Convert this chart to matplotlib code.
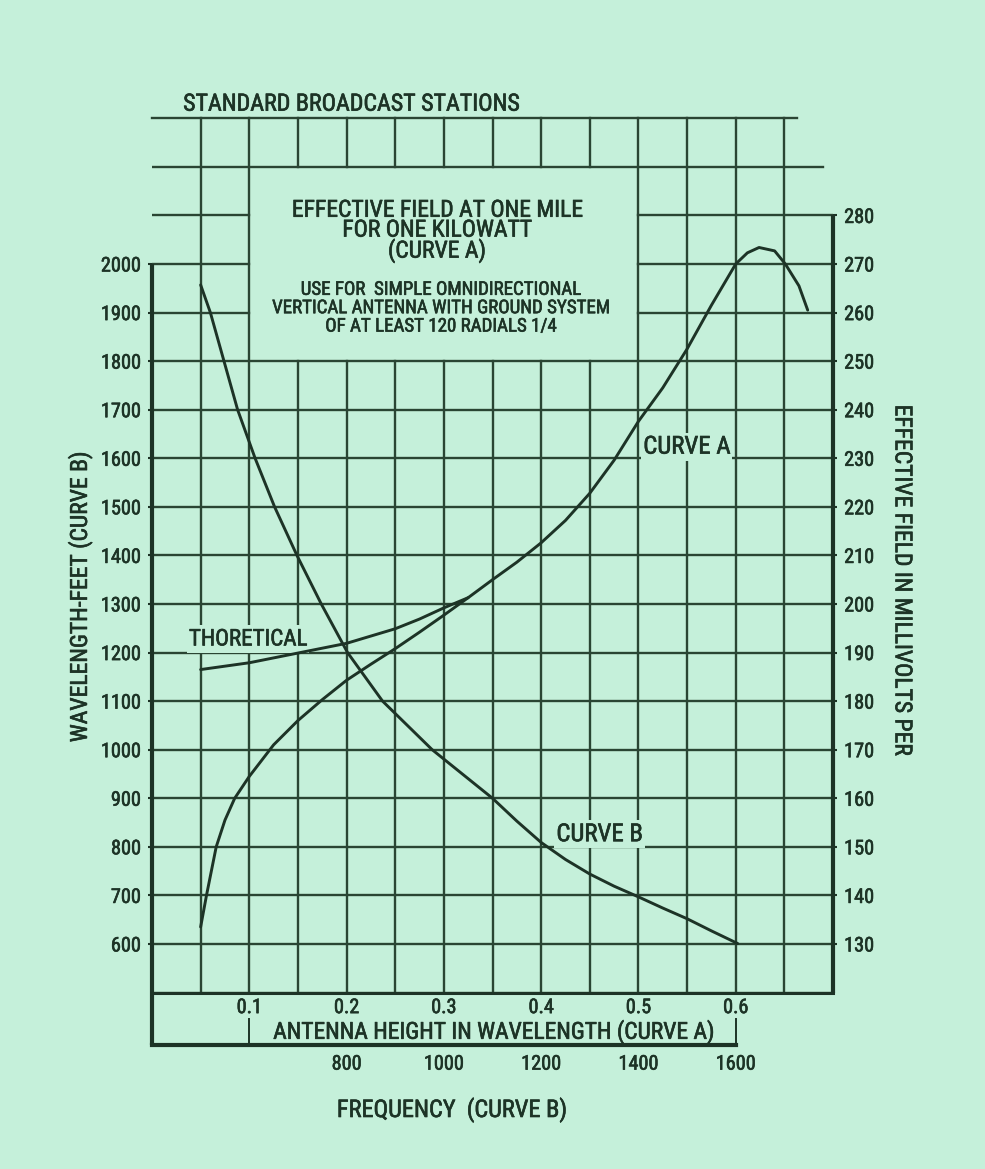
import os
import matplotlib
matplotlib.use("Agg")
import matplotlib.pyplot as plt
from matplotlib import font_manager
from matplotlib.font_manager import FontProperties
import matplotlib.patheffects as pe

# ---------------- data ----------------
height_ticks = [0.1, 0.2, 0.3, 0.4, 0.5, 0.6]
height_labels = ["0.1", "0.2", "0.3", "0.4", "0.5", "0.6"]
freq_ticks = [800, 1000, 1200, 1400, 1600]
freq_labels = ["800", "1000", "1200", "1400", "1600"]
wavelength_ticks = [600, 700, 800, 900, 1000, 1100, 1200, 1300, 1400, 1500,
                    1600, 1700, 1800, 1900, 2000]
field_ticks = [130, 140, 150, 160, 170, 180, 190, 200, 210, 220, 230, 240,
               250, 260, 270, 280]

# Curve A : effective field (mV/m) vs antenna height (wavelengths)
curve_a_height = [0.050, 0.056, 0.066, 0.075, 0.085, 0.100, 0.125, 0.150,
                  0.175, 0.200, 0.225, 0.250, 0.275, 0.300, 0.325, 0.350,
                  0.375, 0.400, 0.425, 0.450, 0.475, 0.500, 0.525, 0.550,
                  0.575, 0.600, 0.612, 0.624, 0.640, 0.651, 0.665, 0.674]
curve_a_field = [133.5, 140, 150, 155.5, 160, 164.5, 171, 176,
                 180.3, 184.3, 187.6, 190.8, 194.2, 197.7, 201.3, 205,
                 208.6, 212.6, 217.2, 222.8, 229.6, 237.6, 244.5, 252.5,
                 261.5, 270, 272.3, 273.4, 272.7, 270, 265.5, 260.5]

# Theoretical branch of curve A
theoretical_height = [0.050, 0.100, 0.150, 0.200, 0.250, 0.275, 0.300, 0.325]
theoretical_field = [186.5, 187.9, 189.9, 191.9, 194.9, 196.9, 199.2, 201.3]

# Curve B : wavelength (feet) vs frequency (plotted on the antenna-height scale)
curve_b_height = [0.050, 0.060, 0.074, 0.088, 0.106, 0.126, 0.149, 0.174,
                  0.201, 0.237, 0.288, 0.350, 0.375, 0.400, 0.425, 0.450,
                  0.475, 0.500, 0.525, 0.550, 0.575, 0.602]
curve_b_wavelength = [1957, 1900, 1800, 1700, 1600, 1500, 1400, 1300,
                      1200, 1100, 1000, 900, 853, 809, 774, 744,
                      719, 697, 674, 652, 627, 601]

# ---------------- style ----------------
BG = "#c5f0da"
INK = "#1d3326"
GRID = "#2a4533"
BOLD = [pe.withStroke(linewidth=0.45, foreground=INK)]


def pick_font():
    files = [f.fname for f in font_manager.fontManager.ttflist]
    files += font_manager.findSystemFonts()
    wanted = ["liberationsansnarrow-regular", "notosans-condensed.",
              "notosans-condensed-regular", "robotocondensed-regular",
              "roboto_condensed-regular", "opensans_condensed-regular",
              "opensans-condensed-regular", "dejavusanscondensed."]
    low = [(os.path.basename(p).lower(), p) for p in files]
    for w in wanted:
        for b, p in low:
            if b.startswith(w) or b.replace(" ", "").startswith(w):
                return p
    for b, p in low:
        if ("condensed" in b or "narrow" in b) and not any(
                k in b for k in ("bold", "italic", "oblique", "light", "thin",
                                 "medium", "black", "semi", "extra", "ultra")):
            return p
    return None


fpath = pick_font()


def FP(size):
    if fpath:
        return FontProperties(fname=fpath, size=size)
    return FontProperties(family="DejaVu Sans", size=size)


W, H = 985, 1169
fig = plt.figure(figsize=(W / 100, H / 100), dpi=100, facecolor=BG)

YMIN, YMAX = 500, 2300
left_px, right_px = 152, 833
top_px, bot_px = 264 - (YMAX - 2000) * 0.4857, 264 + (2000 - YMIN) * 0.4857
ax = fig.add_axes([left_px / W, 1 - bot_px / H, (right_px - left_px) / W,
                   (bot_px - top_px) / H])
ax.set_facecolor(BG)
ax.set_xlim(0, 0.7)
ax.set_ylim(YMIN, YMAX)
for s in ax.spines.values():
    s.set_visible(False)

ax2 = ax.twinx()
ax2.set_ylim(130 + (YMIN - 600) / 10, 130 + (YMAX - 600) / 10)
for s in ax2.spines.values():
    s.set_visible(False)

# ---------------- grid ----------------
glw = 1.7
for lev in range(500, 1900, 100):
    ax.plot([0, 0.7], [lev, lev], color=GRID, lw=glw, zorder=1)
for lev in (1900, 2000, 2100):
    ax.plot([0, 0.1], [lev, lev], color=GRID, lw=glw, zorder=1)
    ax.plot([0.5, 0.7], [lev, lev], color=GRID, lw=glw, zorder=1)
ax.plot([0, 0.69], [2200, 2200], color=GRID, lw=glw, zorder=1)
ax.plot([0, 0.663], [2300, 2300], color=GRID, lw=glw, zorder=1, clip_on=False)
for i in range(1, 14):
    xv = i * 0.05
    if 0.1 + 1e-9 < xv < 0.5 - 1e-9:
        ax.plot([xv, xv], [500, 1800], color=GRID, lw=glw, zorder=1)
        ax.plot([xv, xv], [2200, 2300], color=GRID, lw=glw, zorder=1, clip_on=False)
    else:
        ax.plot([xv, xv], [500, 2300], color=GRID, lw=glw, zorder=1, clip_on=False)

alw = 3.0
ax.plot([0, 0], [392, 2000], color=INK, lw=alw, zorder=3, clip_on=False,
        solid_capstyle="butt")
ax.plot([0.7, 0.7], [500, 2100], color=INK, lw=alw, zorder=3, clip_on=False,
        solid_capstyle="butt")
ax.plot([0, 0.7], [500, 500], color=INK, lw=2.2, zorder=2, clip_on=False)
ax.plot([0, 0.6], [392, 392], color=INK, lw=alw, zorder=3, clip_on=False,
        solid_capstyle="projecting")
for xv in (0.1, 0.6):
    ax.plot([xv, xv], [392, 446], color=INK, lw=1.4, zorder=3, clip_on=False)

# ---------------- curves ----------------
clw = 2.1
kw = dict(color=INK, lw=clw, zorder=5, solid_capstyle="round",
          solid_joinstyle="round")
ax.plot(curve_b_height, curve_b_wavelength, **kw)
ax2.plot(curve_a_height, curve_a_field, **kw)
ax2.plot(theoretical_height, theoretical_field, **kw)

# ---------------- ticks ----------------
ax.set_yticks(wavelength_ticks)
ax.set_yticklabels([str(v) for v in wavelength_ticks])
ax.tick_params(axis="y", direction="out", length=3, width=1.5, color=INK,
               pad=5, labelcolor=INK)
ax2.set_yticks(field_ticks)
ax2.set_yticklabels([str(v) for v in field_ticks])
ax2.tick_params(axis="y", direction="out", length=3, width=1.5, color=INK,
                pad=5, labelcolor=INK)
ax.set_xticks(height_ticks)
ax.set_xticklabels(height_labels)
ax.tick_params(axis="x", length=0, pad=4, labelcolor=INK)

sec = ax.secondary_xaxis(-0.071, functions=(lambda h: 400 + 2000 * h,
                                            lambda f: (f - 400) / 2000))
sec.set_xticks(freq_ticks)
sec.set_xticklabels(freq_labels)
sec.tick_params(axis="x", length=0, pad=0, labelcolor=INK)
for s in sec.spines.values():
    s.set_visible(False)

# ---------------- texts ----------------
lbl_bbox = dict(facecolor=BG, edgecolor="none", pad=1.5)
block1_lines = ["EFFECTIVE FIELD AT ONE MILE", "FOR ONE KILOWATT", "(CURVE A)"]
block2_lines = ["USE FOR  SIMPLE OMNIDIRECTIONAL",
                "VERTICAL ANTENNA WITH GROUND SYSTEM",
                "OF AT LEAST 120 RADIALS 1/4"]

fig.canvas.draw()
r = fig.canvas.get_renderer()


def width_of(sample, size):
    t = fig.text(0, 0, sample, fontproperties=FP(size))
    e = t.get_window_extent(renderer=r)
    t.remove()
    return e.width, e.height


def size_for(sample, target_px, base=12.0):
    w, _ = width_of(sample, base)
    return base * target_px / w


def spacing_for(size, target_px):
    _, h = width_of("lp", size)
    return target_px / h


tick_fs = size_for("2000", 40)
for lab in ax.get_yticklabels() + ax2.get_yticklabels() + \
        ax.get_xticklabels() + sec.get_xticklabels():
    lab.set_fontproperties(FP(tick_fs))
    lab.set_path_effects(BOLD)

texts = []
texts.append(ax.text(0.032, 2329, "STANDARD BROADCAST STATIONS", ha="left",
                     va="center", color=INK, clip_on=False,
                     fontproperties=FP(size_for("STANDARD BROADCAST STATIONS", 336))))

fs1 = size_for(block1_lines[0], 290)
texts.append(ax.text(0.293, 2068, "\n".join(block1_lines), ha="center",
                     va="center", multialignment="center", color=INK,
                     fontproperties=FP(fs1), linespacing=spacing_for(fs1, 19)))
fs2 = size_for(block2_lines[1], 337)
texts.append(ax.text(0.297, 1909, "\n".join(block2_lines), ha="center",
                     va="center", multialignment="center", color=INK,
                     fontproperties=FP(fs2), linespacing=spacing_for(fs2, 18.5)))

lab_fs = size_for("CURVE A", 87)
texts.append(ax.text(0.038, 1228, "THORETICAL", ha="left", va="center",
                     color=INK, bbox=lbl_bbox, zorder=4,
                     fontproperties=FP(size_for("THORETICAL", 118))))
texts.append(ax.text(0.505, 1624, "CURVE A", ha="left", va="center",
                     color=INK, bbox=lbl_bbox, zorder=4,
                     fontproperties=FP(lab_fs)))
texts.append(ax.text(0.46, 826, "CURVE B", ha="center", va="center",
                     color=INK, bbox=lbl_bbox, zorder=4,
                     fontproperties=FP(lab_fs)))
texts.append(ax.text(0.3505, 419, "ANTENNA HEIGHT IN WAVELENGTH (CURVE A)",
                     ha="center", va="center", color=INK, clip_on=False,
                     fontproperties=FP(size_for(
                         "ANTENNA HEIGHT IN WAVELENGTH (CURVE A)", 440))))
texts.append(ax.text(0.3083, 258, "FREQUENCY  (CURVE B)", ha="center",
                     va="center", color=INK, clip_on=False,
                     fontproperties=FP(size_for("FREQUENCY  (CURVE B)", 229))))
texts.append(ax.text(-0.074, 1314, "WAVELENGTH-FEET (CURVE B)", rotation=90,
                     ha="center", va="center", color=INK, clip_on=False,
                     fontproperties=FP(fs1)))
texts.append(ax.text(0.771, 1350, "EFFECTIVE FIELD IN MILLIVOLTS PER",
                     rotation=-90, ha="center", va="center", color=INK,
                     clip_on=False, fontproperties=FP(fs1)))
for t in texts:
    t.set_path_effects(BOLD)

fig.savefig("out.png", dpi=100, facecolor=BG)
